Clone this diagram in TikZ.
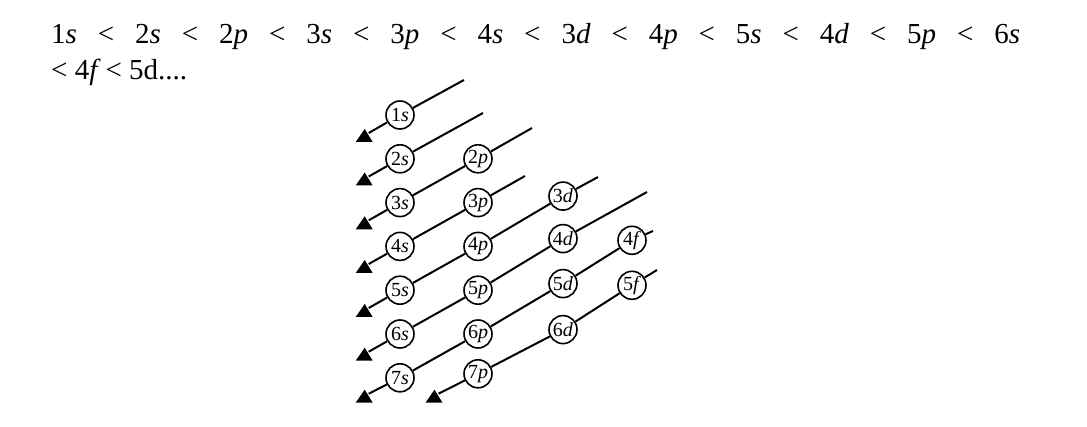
\documentclass[tikz,border=0pt]{standalone}
\usepackage{fontspec}
\setmainfont{Liberation Serif}
\usepackage{tikz}
\usetikzlibrary{positioning}
\tikzset{node distance=43.8pt, auto,
  orb/.style={circle, draw, fill=white, line width=1.6pt, inner sep=0pt,
    minimum size=28pt, font=\fontsize{20}{20}\selectfont},
  diag/.style={line width=2pt}}

\begin{document}
\begin{tikzpicture}[x=1pt, y=-1pt]
             \useasboundingbox (0,0) rectangle (1087,427);

             \node (seq) [anchor=base west, inner sep=0pt] at (51,44)
                {\fontsize{29}{34}\selectfont\makebox[969pt][s]{1\textit{s} < 2\textit{s} < 2\textit{p} < 3\textit{s} < 3\textit{p} < 4\textit{s} < 3\textit{d} < 4\textit{p} < 5\textit{s} < 4\textit{d} < 5\textit{p} < 6\textit{s}}};
             \node (seqb) [anchor=base west, inner sep=0pt] at (51,80)
                {\fontsize{29}{34}\selectfont < 4\textit{f}\,< 5d....};

             \node (s1) [orb] at (400,115) {1\textit{s}};
             \node (s2) [orb, below of=s1] {2\textit{s}};
             \node (s3) [orb, below of=s2] {3\textit{s}};
             \node (s4) [orb, below of=s3] {4\textit{s}};
             \node (s5) [orb, below of=s4] {5\textit{s}};
             \node (s6) [orb, below of=s5] {6\textit{s}};
             \node (s7) [orb, below of=s6] {7\textit{s}};

             \node (p2) [orb, node distance=78pt, right of=s2] {2\textit{p}};
             \node (p3) [orb, below of=p2] {3\textit{p}};
             \node (p4) [orb, below of=p3] {4\textit{p}};
             \node (p5) [orb, below of=p4] {5\textit{p}};
             \node (p6) [orb, below of=p5] {6\textit{p}};
             \node (p7) [orb, below of=p6, yshift=4pt] {7\textit{p}};

             \node (d3) [orb, node distance=85pt, right of=p3, yshift=6.5pt] {3\textit{d}};
             \node (d4) [orb, below of=d3, node distance=42.5pt] {4\textit{d}};
             \node (d5) [orb, below of=d4, node distance=45pt] {5\textit{d}};
             \node (d6) [orb, below of=d5, node distance=46pt] {6\textit{d}};

             \node (f4) [orb, node distance=69pt, right of=d4, yshift=-1.7pt] {4\textit{f}};
             \node (f5) [orb, below of=f4, node distance=45pt] {5\textit{f}};

             \coordinate (e1) at (464,80);
             \coordinate (e2) at (483,113);
             \coordinate (e3) at (532,128);
             \coordinate (e4) at (525,176);
             \coordinate (e5) at (598,177);
             \coordinate (e6) at (647,192);
             \coordinate (e7) at (653,231);
             \coordinate (e8) at (657,270);

             \coordinate (a1) at (368.7,133);
             \coordinate (a2) at (368.7,176.5);
             \coordinate (a3) at (368.7,220.3);
             \coordinate (a4) at (368.7,264);
             \coordinate (a5) at (368.7,308);
             \coordinate (a6) at (368.7,351.7);
             \coordinate (a7) at (368.7,393.7);
             \coordinate (a8) at (438.5,393.7);

             \draw [diag] (e1) to (s1) to (a1);
             \draw [diag] (e2) to (s2) to (a2);
             \draw [diag] (e3) to (p2) to (s3) to (a3);
             \draw [diag] (e4) to (p3) to (s4) to (a4);
             \draw [diag] (e5) to (d3) to (p4) to (s5) to (a5);
             \draw [diag] (e6) to (d4) to (p5) to (s6) to (a6);
             \draw [diag] (e7) to (f4) to (d5) to (p6) to (s7) to (a7);
             \draw [diag] (e8) to (f5) to (d6) to (p7) to (a8);

             \foreach \n in {1,...,8}
                \fill (a\n) ++(-4,-4) -- ++(-9,13) -- ++(17,0) -- cycle;
          \end{tikzpicture}
\end{document}
